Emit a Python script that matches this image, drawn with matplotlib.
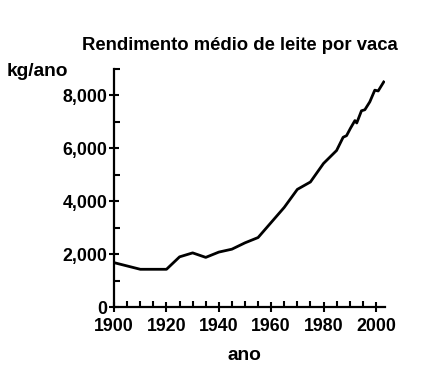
import matplotlib
matplotlib.use("Agg")
import matplotlib.pyplot as plt
from matplotlib.ticker import MultipleLocator, FuncFormatter

# Rendimento médio de leite por vaca (kg/ano)
anos = [1900, 1910, 1920, 1925, 1930, 1935, 1940, 1945, 1950, 1955,
        1960, 1965, 1970, 1975, 1980, 1985, 1987.5, 1988.8, 1990.3, 1992,
        1992.7, 1994.5, 1995.8, 1997.7, 1999.6, 2000.9, 2003]
rendimento = [1680, 1430, 1430, 1900, 2050, 1880, 2080, 2190, 2430, 2630,
              3200, 3770, 4450, 4730, 5430, 5920, 6420, 6480, 6760, 7050,
              6960, 7420, 7460, 7760, 8200, 8170, 8510]

plt.rcParams["font.family"] = ["Liberation Sans", "DejaVu Sans"]
plt.rcParams["font.weight"] = "bold"

fig = plt.figure(figsize=(4.39, 3.75), dpi=100)
ax = fig.add_axes([0.26, 0.181, 0.617, 0.635])

ax.plot(anos, rendimento, color="black", linewidth=2.0)

ax.set_xlim(1900, 2003.5)
ax.set_ylim(0, 9000)
ax.spines["top"].set_visible(False)
ax.spines["right"].set_visible(False)
for s in ("left", "bottom"):
    ax.spines[s].set_linewidth(1.6)

ax.xaxis.set_major_locator(MultipleLocator(20))
ax.xaxis.set_minor_locator(MultipleLocator(5))
ax.yaxis.set_major_locator(MultipleLocator(2000))
ax.yaxis.set_minor_locator(MultipleLocator(1000))
ax.yaxis.set_major_formatter(FuncFormatter(lambda v, p: f"{int(v):,}"))

ax.tick_params(which="major", direction="inout", length=7, width=1.5,
               labelsize=12.8)
ax.tick_params(axis="y", which="major", pad=1.5)
ax.tick_params(axis="x", which="major", pad=4)
ax.tick_params(which="minor", direction="in", length=4, width=1.5)

fig.text(0.547, 0.878, "Rendimento médio de leite por vaca",
         ha="center", va="center", fontsize=13.3, fontweight="bold")
fig.text(0.016, 0.808, "kg/ano", ha="left", va="center",
         fontsize=13.8, fontweight="bold")
fig.text(0.556, 0.053, "ano", ha="center", va="center",
         fontsize=13.8, fontweight="bold")

fig.savefig("out.png", dpi=100)
